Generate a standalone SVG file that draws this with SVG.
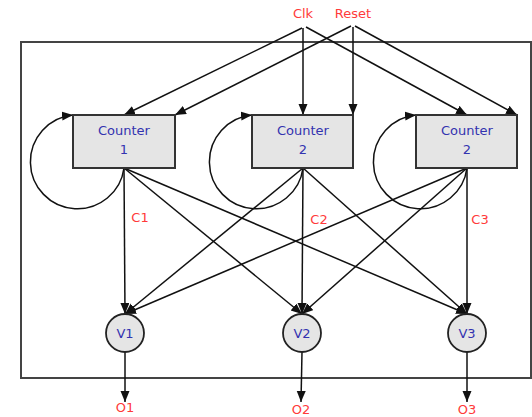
<svg xmlns="http://www.w3.org/2000/svg" width="532" height="417" viewBox="0 0 532 417">
  <style>
    .frame { fill: none; stroke: #444; stroke-width: 2; }
    .box { fill: #e5e5e5; stroke: #333; stroke-width: 2; }
    .node { fill: #e5e5e5; stroke: #222; stroke-width: 1.8; }
    .edge { fill: none; stroke: #111; stroke-width: 1.5; marker-end: url(#arrow); }
    .name { font-family: "DejaVu Sans", sans-serif; font-size: 13px; fill: #3333b0; text-anchor: middle; }
    .sig { font-family: "DejaVu Sans", sans-serif; font-size: 13px; fill: #ff3a3a; text-anchor: middle; }
  </style>
  <defs>
    <marker id="arrow" markerUnits="userSpaceOnUse" markerWidth="12" markerHeight="10" refX="11" refY="4.5" orient="auto">
      <path d="M0,0 L11,4.5 L0,9 z" fill="#111"/>
    </marker>
  </defs>
  <rect width="532" height="417" fill="#fff"/>

  <!-- enclosing block -->
  <rect class="frame" x="21" y="42" width="510" height="336"/>

  <!-- input signals -->
  <text class="sig" x="303" y="18">Clk</text>
  <text class="sig" x="353" y="18">Reset</text>

  <g id="connectors">
    <!-- Clk fan-out -->
    <path class="edge" d="M302,28 L124,115"/>
    <path class="edge" d="M303,28 L303,115"/>
    <path class="edge" d="M306,27 L467,115"/>
    <!-- Reset fan-out -->
    <path class="edge" d="M351,26 L175,115"/>
    <path class="edge" d="M353,27 L353,115"/>
    <path class="edge" d="M355,26 L517,115"/>
    <!-- self loops -->
    <path class="edge" d="M124,168 A47,47 0 1 1 73,115"/>
    <path class="edge" d="M303,168 A47,47 0 1 1 252,115"/>
    <path class="edge" d="M467,168 A47,47 0 1 1 416,115"/>
    <!-- counters to voters -->
    <path class="edge" d="M124,168 L125,314"/>
    <path class="edge" d="M124,168 L302,314"/>
    <path class="edge" d="M124,168 L467,314"/>
    <path class="edge" d="M303,168 L125,314"/>
    <path class="edge" d="M303,168 L302,314"/>
    <path class="edge" d="M303,168 L467,314"/>
    <path class="edge" d="M467,168 L125,314"/>
    <path class="edge" d="M467,168 L302,314"/>
    <path class="edge" d="M467,168 L467,314"/>
    <!-- outputs -->
    <path class="edge" d="M125,352 L125,402"/>
    <path class="edge" d="M302,352 L301,402"/>
    <path class="edge" d="M467,352 L467,402"/>
  </g>

  <g id="counter1">
    <rect class="box" x="73" y="115" width="102" height="53"/>
    <text class="name" x="124" y="135">Counter</text>
    <text class="name" x="124" y="154">1</text>
  </g>
  <g id="counter2">
    <rect class="box" x="252" y="115" width="101" height="53"/>
    <text class="name" x="303" y="135">Counter</text>
    <text class="name" x="303" y="154">2</text>
  </g>
  <g id="counter3">
    <rect class="box" x="416" y="115" width="101" height="53"/>
    <text class="name" x="467" y="135">Counter</text>
    <text class="name" x="467" y="154">2</text>
  </g>

  <!-- counter output labels -->
  <text class="sig" x="140" y="222">C1</text>
  <text class="sig" x="319" y="224">C2</text>
  <text class="sig" x="480" y="224">C3</text>

  <g id="v1">
    <circle class="node" cx="125" cy="333" r="19"/>
    <text class="name" x="125" y="338">V1</text>
  </g>
  <g id="v2">
    <circle class="node" cx="302" cy="333" r="19"/>
    <text class="name" x="302" y="338">V2</text>
  </g>
  <g id="v3">
    <circle class="node" cx="467" cy="333" r="19"/>
    <text class="name" x="467" y="338">V3</text>
  </g>

  <!-- outputs -->
  <text class="sig" x="125" y="412">O1</text>
  <text class="sig" x="301" y="414">O2</text>
  <text class="sig" x="467" y="414">O3</text>
</svg>
